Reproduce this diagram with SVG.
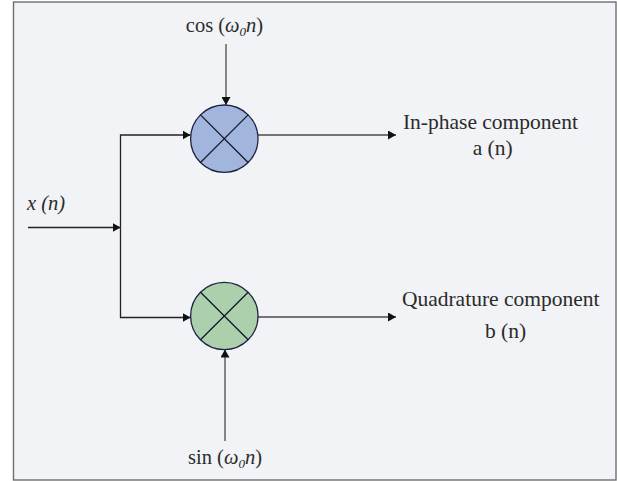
<svg xmlns="http://www.w3.org/2000/svg" width="617" height="481" viewBox="0 0 617 481">
<style>
.t{font-family:"Liberation Serif","Times New Roman",serif;font-size:21.5px;fill:#2b2b2b}
.n{font-size:20.500px}
.c{text-anchor:middle}
.i{font-style:italic}
.s{font-size:13px;font-style:italic}
.l{fill:none;stroke:#222;stroke-width:1.3}
.g{fill:none;stroke:#4a4a4a;stroke-width:1.3}
.m{stroke:#1c2340;stroke-width:1.3}
.x{stroke:#15192b;stroke-width:1.3}
</style>
<defs>
<marker id="a" markerUnits="userSpaceOnUse" markerWidth="8" markerHeight="9" refX="8" refY="4.5" orient="auto"><path d="M0 0L8 4.500L0 9Z" fill="#111"/></marker>
</defs>
<rect x="0" y="0" width="617" height="481" fill="#fff"/>
<rect x="13.5" y="2" width="602.5" height="478" fill="#f2f3f6" stroke="#6e6e6e" stroke-width="1.4"/>
<g id="connectors">
<path class="l" d="M28 227.500H120.500" marker-end="url(#a)"/>
<path class="l" d="M120.500 227.500V135H190.500" marker-end="url(#a)"/>
<path class="l" d="M120.500 227.500V317.500H190.500" marker-end="url(#a)"/>
<path class="g" d="M226 44V105" marker-end="url(#a)"/>
<path class="g" d="M225 441V349.500" marker-end="url(#a)"/>
<path class="g" d="M258 135H396" marker-end="url(#a)"/>
<path class="g" d="M258 317H396" marker-end="url(#a)"/>
</g>
<g id="mixer-top">
<circle class="m" cx="224.300" cy="138.700" r="33.700" fill="#a2b5dc"/>
<path class="x" d="M200.500 114.900L248.100 162.500M248.100 114.900L200.500 162.500"/>
</g>
<g id="mixer-bottom">
<circle class="m" cx="224.300" cy="316" r="33.700" fill="#acd0ac"/>
<path class="x" d="M200.500 292.200L248.100 339.800M248.100 292.200L200.500 339.800"/>
</g>
<g id="label-x"><text class="t i n" x="27" y="210">x (n)</text></g>
<g id="label-cos"><text class="t n c" x="224.500" y="32">cos (<tspan class="i">ω</tspan><tspan class="s" dy="4">0</tspan><tspan class="i" dy="-4">n</tspan>)</text></g>
<g id="label-sin"><text class="t n c" x="225" y="464">sin (<tspan class="i">ω</tspan><tspan class="s" dy="4">0</tspan><tspan class="i" dy="-4">n</tspan>)</text></g>
<g id="label-a"><text class="t c" x="490.400" y="129">In-phase component</text><text class="t c" x="492.700" y="155">a (n)</text></g>
<g id="label-b"><text class="t c" x="500.700" y="306">Quadrature component</text><text class="t c" x="505.500" y="338">b (n)</text></g>
</svg>
